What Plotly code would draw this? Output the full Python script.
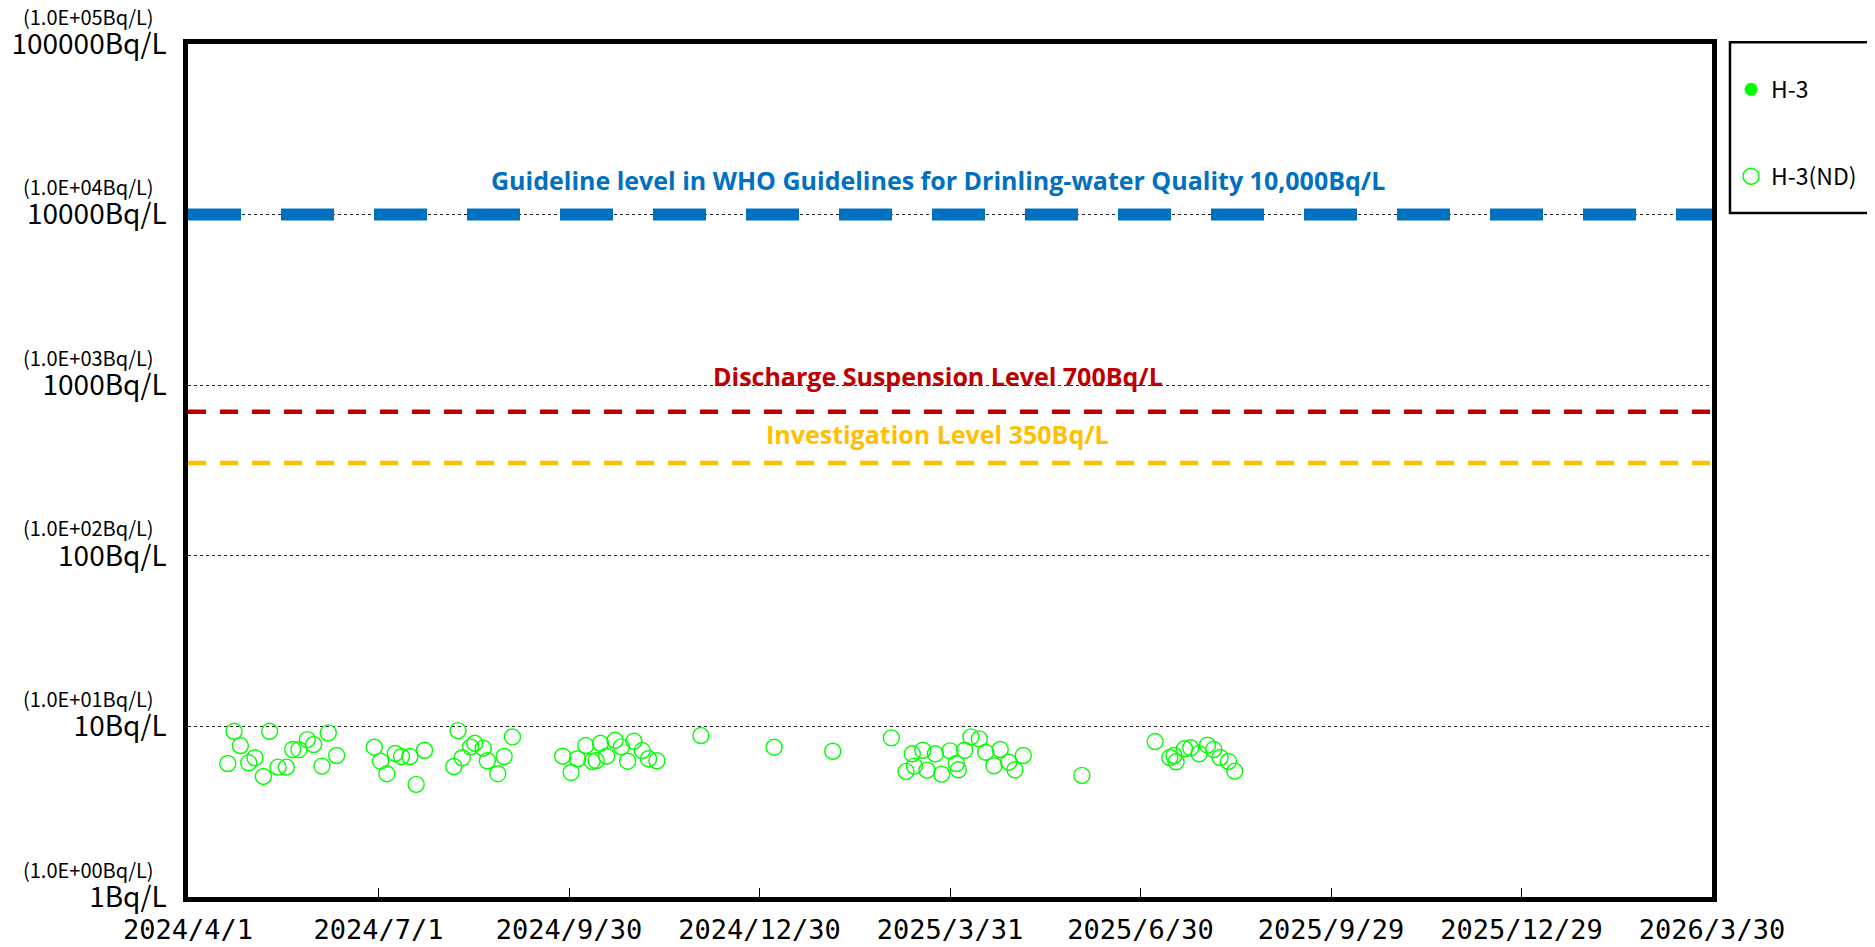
import plotly.graph_objects as go
import math

# ---------------- data ----------------
# H-3 detected values (none detected in this period)
h3_dates = []
h3_values = []

# H-3 not detected (ND) - detection limit values, Bq/L
nd_dates = [
    "2024-04-23", "2024-05-10", "2024-04-26", "2024-04-20", "2024-04-30", "2024-05-03",
    "2024-05-07", "2024-05-14", "2024-05-18", "2024-05-21", "2024-05-24", "2024-05-28",
    "2024-05-31", "2024-06-07", "2024-06-04", "2024-06-11",
    "2024-06-29", "2024-07-02", "2024-07-05", "2024-07-09", "2024-07-12", "2024-07-16",
    "2024-07-23", "2024-07-19",
    "2024-08-08", "2024-08-06", "2024-08-10", "2024-08-14", "2024-08-16", "2024-08-20",
    "2024-08-22", "2024-08-30", "2024-08-27", "2024-09-03",
    "2024-09-27", "2024-10-01", "2024-10-04", "2024-10-08", "2024-10-11", "2024-10-13",
    "2024-10-15", "2024-10-18", "2024-10-22", "2024-10-25", "2024-10-28", "2024-10-31",
    "2024-11-04", "2024-11-07", "2024-11-11",
    "2024-12-02", "2025-01-06", "2025-02-03",
    "2025-03-03", "2025-03-13", "2025-03-18", "2025-03-24", "2025-03-31", "2025-04-07",
    "2025-04-10", "2025-04-14", "2025-04-17", "2025-04-24", "2025-05-05", "2025-03-10",
    "2025-03-14", "2025-03-20", "2025-03-27", "2025-04-03", "2025-04-04", "2025-04-21",
    "2025-04-28", "2025-05-01",
    "2025-06-02",
    "2025-07-07", "2025-07-14", "2025-07-16", "2025-07-17", "2025-07-21", "2025-07-24",
    "2025-07-28", "2025-08-01", "2025-08-04", "2025-08-07", "2025-08-11", "2025-08-14",
]
nd_values = [
    9.36, 9.36, 7.72, 6.06, 6.12, 6.55,
    5.09, 5.77, 5.77, 7.32, 7.30, 8.37,
    7.83, 9.16, 5.85, 6.75,
    7.55, 6.25, 5.28, 6.94, 6.66, 6.66,
    7.25, 4.57,
    9.45, 5.82, 6.55, 7.59, 7.97, 7.45,
    6.29, 6.66, 5.28, 8.68,
    6.69, 5.37, 6.46, 7.72, 6.23, 6.31,
    7.97, 6.69, 8.29, 7.59, 6.25, 8.19,
    7.22, 6.46, 6.29,
    8.84, 7.55, 7.15,
    8.57, 6.91, 7.25, 6.91, 7.19, 7.25,
    8.68, 8.45, 7.06, 7.32, 6.75, 5.45,
    5.85, 5.54, 5.25, 6.06, 5.57, 5.88,
    6.17, 5.57,
    5.16,
    8.15, 6.57, 6.75, 6.20, 7.39, 7.49,
    6.91, 7.76, 7.32, 6.57, 6.23, 5.47,
]

# reference levels (Bq/L)
who_level = 10000
discharge_level = 700
investigation_level = 350
who_text = "Guideline level in WHO Guidelines for Drinling-water Quality 10,000Bq/L"
discharge_text = "Discharge Suspension Level 700Bq/L"
investigation_text = "Investigation Level 350Bq/L"

# axes
x_start, x_end = "2024-04-01", "2026-03-30"
x_tickvals = ["2024-04-01", "2024-07-01", "2024-09-30", "2024-12-30", "2025-03-31",
              "2025-06-30", "2025-09-29", "2025-12-29", "2026-03-30"]
x_ticktext = ["2024/4/1", "2024/7/1", "2024/9/30", "2024/12/30", "2025/3/31",
              "2025/6/30", "2025/9/29", "2025/12/29", "2026/3/30"]
y_tickvals = [1, 10, 100, 1000, 10000, 100000]
y_ticktext = ["1Bq/L", "10Bq/L", "100Bq/L", "1000Bq/L", "10000Bq/L", "100000Bq/L"]
y_subtext = ["(1.0E+00Bq/L)", "(1.0E+01Bq/L)", "(1.0E+02Bq/L)",
             "(1.0E+03Bq/L)", "(1.0E+04Bq/L)", "(1.0E+05Bq/L)"]

GREEN = "#00FF00"
JP = "Noto Sans CJK JP"

fig = go.Figure()

fig.add_trace(go.Scatter(
    x=h3_dates if h3_dates else [None], y=h3_values if h3_values else [None],
    mode="markers", name="H-3", legendgroup="a",
    marker=dict(symbol="circle", size=13, color=GREEN),
))
fig.add_trace(go.Scatter(
    x=nd_dates, y=nd_values, mode="markers", name="H-3(ND)", legendgroup="b",
    marker=dict(symbol="circle-open", size=16, color=GREEN, line=dict(width=1.4)),
))

# reference lines
for val, color, width, dash in [
    (who_level, "#0070C0", 12, "53px,40px"),
    (discharge_level, "#C00000", 4.5, "18px,14px"),
    (investigation_level, "#FFC000", 4.5, "18px,14px"),
]:
    fig.add_shape(type="line", xref="paper", x0=0, x1=1, yref="y", y0=val, y1=val,
                  line=dict(color=color, width=width, dash=dash), layer="above")

# reference texts
ann_font = "Open Sans"
fig.add_annotation(text=f"<b>{who_text}</b>", xref="paper", x=0.492, yref="y",
                   y=math.log10(who_level), yshift=35, showarrow=False,
                   font=dict(family=ann_font, size=25, color="#0070C0"))
fig.add_annotation(text=f"<b>{discharge_text}</b>", xref="paper", x=0.492, yref="y",
                   y=math.log10(discharge_level), yshift=36, showarrow=False,
                   font=dict(family=ann_font, size=25, color="#C00000"))
fig.add_annotation(text=f"<b>{investigation_text}</b>", xref="paper", x=0.492, yref="y",
                   y=math.log10(investigation_level), yshift=29, showarrow=False,
                   font=dict(family=ann_font, size=25, color="#FFC000"))

# small exponent labels above y tick labels
for v, t in zip(y_tickvals, y_subtext):
    fig.add_annotation(text=t, xref="paper", x=-0.021, xanchor="right", yref="y",
                       y=math.log10(v), yshift=28, showarrow=False,
                       font=dict(family=JP, size=20, color="black"))

# legend frame
fig.add_shape(type="rect", xref="paper", yref="paper",
              x0=1.0118, x1=1.105, y0=0.802, y1=1.002,
              line=dict(color="black", width=2.5), fillcolor="rgba(0,0,0,0)")

# page body has an 8px default margin: compensate so the plot lands in place
fig.update_layout(
    width=1867, height=939,
    margin=dict(l=180, r=163, t=36, b=50, autoexpand=False),
    paper_bgcolor="white", plot_bgcolor="white",
    showlegend=True,
    legend=dict(x=1.0125, xanchor="left", y=0.972, yanchor="top",
                font=dict(family=JP, size=23, color="black"),
                bgcolor="rgba(0,0,0,0)", borderwidth=0,
                traceorder="grouped", tracegroupgap=54),
    xaxis=dict(
        type="date", range=[x_start, x_end], automargin=False,
        tickmode="array", tickvals=x_tickvals, ticktext=x_ticktext,
        ticks="inside", ticklen=9, tickwidth=1.2, tickcolor="black",
        showgrid=False, zeroline=False,
        showline=True, linecolor="black", linewidth=5, mirror=True,
        tickfont=dict(family="DejaVu Sans Mono", size=27, color="black"),
        ticklabelstandoff=5,
    ),
    yaxis=dict(
        type="log", range=[0, 5], automargin=False,
        tickmode="array", tickvals=y_tickvals, ticktext=y_ticktext,
        ticks="", showgrid=True, gridcolor="#222", gridwidth=1, griddash="dot",
        zeroline=False,
        showline=True, linecolor="black", linewidth=4.5, mirror=True,
        tickfont=dict(family=JP, size=28, color="black"),
        ticklabelstandoff=11,
    ),
)

fig.write_html("out.html")
